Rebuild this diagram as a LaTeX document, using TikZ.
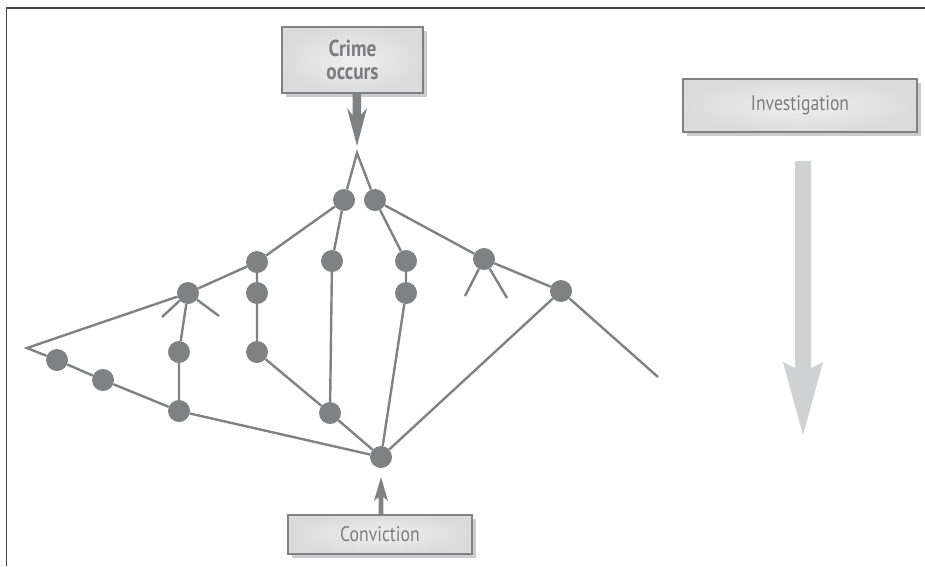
\documentclass[tikz,border=0pt]{standalone}
\usepackage{fontspec}
\setmainfont[FakeStretch=0.84]{PT Sans}
\usetikzlibrary{shadows}
\definecolor{ln}{RGB}{128,129,133}
\definecolor{txt}{RGB}{125,125,128}
\definecolor{bigarrow}{RGB}{208,209,211}
\definecolor{frame}{RGB}{70,70,70}
\tikzset{
  edge/.style={draw=ln, line width=2.4pt},
  dot/.style={circle, fill=ln, minimum size=22pt, inner sep=0pt},
  labelbox/.style={draw=ln, line width=1.8pt, inner sep=0pt, align=center,
    shading=radial, inner color=gray!12, outer color=gray!28, text=txt,
    drop shadow={shadow xshift=3.5pt, shadow yshift=-3.5pt, fill=gray!40, opacity=1}},
}
\begin{document}
\begin{tikzpicture}[x=1pt,y=-1pt]
\useasboundingbox (0,0) rectangle (925,566);
% frame
\draw[frame, line width=1.3pt] (6.5,566) -- (6.5,8) -- (925,8);

% boxes
\node[labelbox, minimum width=141pt, minimum height=66pt, font=\fontsize{23pt}{23pt}\selectfont\bfseries] (crime) at (352.5,60) {Crime\\occurs};
\node[labelbox, minimum width=234pt, minimum height=53pt, font=\fontsize{21pt}{23pt}\selectfont] (inv) at (800,105.5) {Investigation};
\node[labelbox, minimum width=184pt, minimum height=39pt, font=\fontsize{21pt}{23pt}\selectfont] (conv) at (380,534.5) {Conviction};

% big investigation arrow
\fill[bigarrow] (795,161) -- (811,161) -- (811,368) -- (823,362) -- (803,435) -- (783,362) -- (795,368) -- cycle;

% coordinates
\coordinate (ta) at (357,153);
\coordinate (la) at (27,348);
\coordinate (r) at (658,377);
\coordinate (f1) at (162,317);
\coordinate (f2) at (219,316);
\coordinate (o1) at (465,296);
\coordinate (o2) at (507,298);

% dots
\node[dot] (a) at (344,200) {};
\node[dot] (b) at (375,200) {};
\node[dot] (c) at (257,262) {};
\node[dot] (d) at (257,293) {};
\node[dot] (e) at (257,352) {};
\node[dot] (f) at (188,293) {};
\node[dot] (g) at (179,352) {};
\node[dot] (h) at (179,411) {};
\node[dot] (i) at (57,360) {};
\node[dot] (j) at (103,380) {};
\node[dot] (k) at (332,261) {};
\node[dot] (l) at (330,413) {};
\node[dot] (m) at (406,261) {};
\node[dot] (n) at (406,293) {};
\node[dot] (o) at (484,259) {};
\node[dot] (p) at (561,291) {};
\node[dot] (q) at (381,457) {};

% edges
\draw[edge] (a) -- (ta) -- (b);
\draw[edge] (a) -- (c) -- (f) -- (la) -- (i) -- (j) -- (h) -- (q);
\draw[edge] (a) -- (k) -- (l) -- (q);
\draw[edge] (b) -- (m) -- (n) -- (q);
\draw[edge] (b) -- (o) -- (p) -- (r);
\draw[edge] (p) -- (q);
\draw[edge] (c) -- (d) -- (e) -- (l);
\draw[edge] (f) -- (g) -- (h);
\draw[edge] (f1) -- (f) -- (f2);
\draw[edge] (o1) -- (o) -- (o2);

% crime arrow
\fill[ln] (352.5,93) -- (361,93) -- (361,115) -- (367,108) -- (357,146) -- (347,108) -- (352.5,115) -- cycle;
% conviction arrow
\fill[ln] (378.7,515) -- (383.3,515) -- (383.3,497) -- (388,501) -- (381,477) -- (374,501) -- (378.7,497) -- cycle;
\end{tikzpicture}
\end{document}
